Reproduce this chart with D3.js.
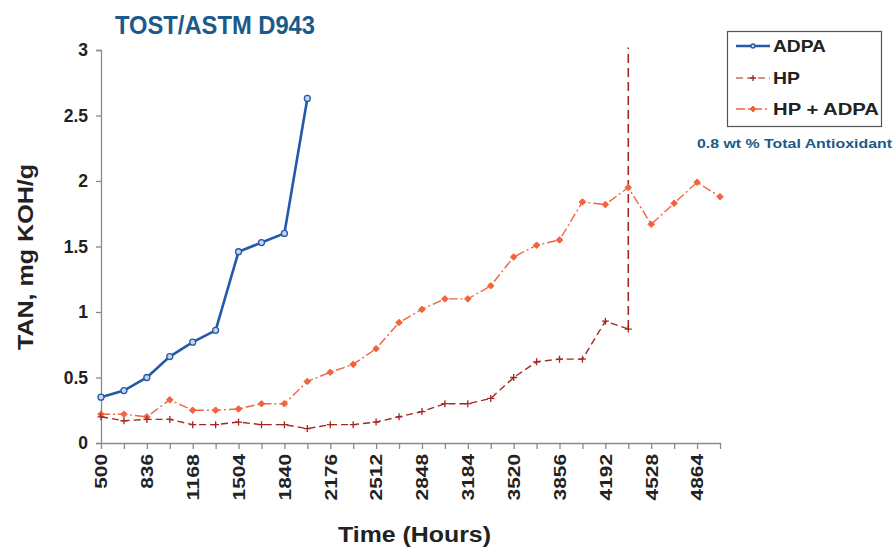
<!DOCTYPE html>
<html>
<head>
<meta charset="utf-8">
<script src="https://cdn.jsdelivr.net/npm/d3@7/dist/d3.min.js"></script>
<style>
  html, body { margin: 0; padding: 0; background: #fff; }
  svg { display: block; }
  text { font-family: "Liberation Sans", Arial, sans-serif; font-weight: bold; }
</style>
</head>
<body>
<svg id="chart" width="895" height="548"></svg>
<script>
// Sampling times (hours); every other one is labelled on the axis
const hours = [500, 668, 836, 1004, 1168, 1336, 1504, 1672, 1840, 2008, 2176, 2344, 2512, 2680,
               2848, 3016, 3184, 3352, 3520, 3688, 3856, 4024, 4192, 4360, 4528, 4696, 4864, 5032];
const labelledHours = [500, 836, 1168, 1504, 1840, 2176, 2512, 2848, 3184, 3520, 3856, 4192, 4528, 4864];

// TAN values, mg KOH/g
const adpa = [0.35, 0.40, 0.50, 0.66, 0.77, 0.86, 1.46, 1.53, 1.60, 2.63];
const hp = [0.20, 0.17, 0.18, 0.18, 0.14, 0.14, 0.16, 0.14, 0.14, 0.11, 0.14, 0.14, 0.16, 0.20,
            0.24, 0.30, 0.30, 0.34, 0.50, 0.62, 0.64, 0.64, 0.93, 0.87];
const hpAdpa = [0.22, 0.22, 0.20, 0.33, 0.25, 0.25, 0.26, 0.30, 0.30, 0.47, 0.54, 0.60, 0.72, 0.92,
                1.02, 1.10, 1.10, 1.20, 1.42, 1.51, 1.55, 1.84, 1.82, 1.95, 1.67, 1.83, 1.99, 1.88];
// HP run terminated: TAN rises off scale after the last reading
const hpEndValue = 3.02;

const yTicks = [0, 0.5, 1, 1.5, 2, 2.5, 3];

const seriesNames = ["ADPA", "HP", "HP + ADPA"];
const colors = { adpa: "#2459a9", hp: "#a3281f", hpAdpa: "#f2643c" };

const svg = d3.select("#chart");

const x = d3.scalePoint().domain(hours).range([101, 720]).padding(0);
const y = d3.scaleLinear().domain([0, 3]).range([443, 50]);

const axisColor = "#8a8a8a";

// Y axis
const yAxis = svg.append("g")
  .attr("transform", "translate(101,0)")
  .call(d3.axisLeft(y).tickValues(yTicks).tickSize(5).tickPadding(8)
        .tickFormat(d => d3.format("")(d)));
yAxis.select(".domain").attr("stroke", axisColor).attr("stroke-width", 1.3);
yAxis.selectAll(".tick line").attr("stroke", axisColor).attr("stroke-width", 1.3);
yAxis.selectAll(".tick text").attr("font-size", 17.5).attr("fill", "#222");

// X axis
const xAxis = svg.append("g")
  .attr("transform", "translate(0,443)")
  .call(d3.axisBottom(x).tickSize(6).tickSizeOuter(0)
        .tickFormat(d => labelledHours.includes(d) ? d : ""));
xAxis.select(".domain").attr("stroke", axisColor).attr("stroke-width", 1.3);
xAxis.selectAll(".tick line").attr("stroke", axisColor).attr("stroke-width", 1.3);
xAxis.selectAll(".tick text")
  .attr("font-size", 16.5)
  .attr("fill", "#222")
  .attr("text-anchor", "end")
  .attr("dy", "0.35em")
  .attr("transform", "translate(0,11) rotate(-90)")
  .attr("x", 0).attr("y", 0)
  .each(function (d) {
    const s = String(this.textContent);
    if (s.length) d3.select(this).attr("textLength", s.length * 11.6).attr("lengthAdjust", "spacingAndGlyphs");
  });

// Line generator over category positions
const lineFor = arr => d3.line()
  .defined(d => d != null)
  .x((d, i) => x(hours[i]))
  .y(d => y(d))(arr);

// HP + ADPA: dash-dot orange
svg.append("path")
  .attr("d", lineFor(hpAdpa))
  .attr("fill", "none")
  .attr("stroke", colors.hpAdpa)
  .attr("stroke-width", 1.4)
  .attr("stroke-dasharray", "9,3,2,3");

// HP: dashed dark red, ending in a vertical rise
svg.append("path")
  .attr("d", lineFor(hp))
  .attr("fill", "none")
  .attr("stroke", colors.hp)
  .attr("stroke-width", 1.4)
  .attr("stroke-dasharray", "7,4");
const lastHp = hp.length - 1;
svg.append("line")
  .attr("x1", x(hours[lastHp])).attr("x2", x(hours[lastHp]))
  .attr("y1", y(hp[lastHp])).attr("y2", y(hpEndValue))
  .attr("stroke", colors.hp)
  .attr("stroke-width", 1.6)
  .attr("stroke-dasharray", "9,5");

// ADPA: solid blue
svg.append("path")
  .attr("d", lineFor(adpa))
  .attr("fill", "none")
  .attr("stroke", colors.adpa)
  .attr("stroke-width", 2.6);

// Markers
function diamond(sel, cx, cy, r, color) {
  sel.append("path")
    .attr("d", `M${cx},${cy - r}L${cx + r},${cy}L${cx},${cy + r}L${cx - r},${cy}Z`)
    .attr("fill", color).attr("stroke", color).attr("stroke-width", 1);
}
function plus(sel, cx, cy, r, color) {
  sel.append("path")
    .attr("d", `M${cx - r},${cy}H${cx + r}M${cx},${cy - r}V${cy + r}`)
    .attr("stroke", color).attr("stroke-width", 1.3).attr("fill", "none");
}
function ring(sel, cx, cy, r, color) {
  sel.append("circle").attr("cx", cx).attr("cy", cy).attr("r", r)
    .attr("fill", "#c8d4ec").attr("stroke", color).attr("stroke-width", 1.3);
}

const marks = svg.append("g");
hpAdpa.forEach((v, i) => { if (v != null) diamond(marks, x(hours[i]), y(v), 3.3, colors.hpAdpa); });
hp.forEach((v, i) => { if (v != null) plus(marks, x(hours[i]), y(v), 3.5, colors.hp); });
adpa.forEach((v, i) => { if (v != null) ring(marks, x(hours[i]), y(v), 3, colors.adpa); });

// Title
svg.append("text")
  .attr("x", 115).attr("y", 34)
  .attr("font-size", 25)
  .attr("fill", "#1a5a8b")
  .attr("textLength", 200).attr("lengthAdjust", "spacingAndGlyphs")
  .text("TOST/ASTM D943");

// Axis titles
svg.append("text")
  .attr("transform", "translate(33,257) rotate(-90)")
  .attr("text-anchor", "middle")
  .attr("font-size", 22)
  .attr("fill", "#222")
  .attr("textLength", 186).attr("lengthAdjust", "spacingAndGlyphs")
  .text("TAN, mg KOH/g");

svg.append("text")
  .attr("x", 338).attr("y", 542)
  .attr("font-size", 22)
  .attr("fill", "#222")
  .attr("textLength", 153).attr("lengthAdjust", "spacingAndGlyphs")
  .text("Time  (Hours)");

// Legend
const legend = svg.append("g");
legend.append("rect")
  .attr("x", 727.5).attr("y", 31.5).attr("width", 154).attr("height", 95)
  .attr("fill", "#fff").attr("stroke", "#555").attr("stroke-width", 1.2);

const legendRows = [
  { name: seriesNames[0], y: 46, color: colors.adpa, width: 2.6, dash: null, mark: ring },
  { name: seriesNames[1], y: 78, color: colors.hp, width: 1.2, dash: "7,4", mark: plus },
  { name: seriesNames[2], y: 109, color: colors.hpAdpa, width: 1.4, dash: "9,3,2,3", mark: diamond }
];
const legendWidths = [53, 27, 106];
legendRows.forEach((r, k) => {
  legend.append("line")
    .attr("x1", 736).attr("x2", 770).attr("y1", r.y).attr("y2", r.y)
    .attr("stroke", r.color).attr("stroke-width", r.width)
    .attr("stroke-dasharray", r.dash);
  r.mark(legend, 753, r.y, r.mark === ring ? 2 : 3, r.color);
  legend.append("text")
    .attr("x", 773).attr("y", r.y + 6)
    .attr("font-size", 17)
    .attr("fill", "#222")
    .attr("textLength", legendWidths[k]).attr("lengthAdjust", "spacingAndGlyphs")
    .text(r.name);
});

svg.append("text")
  .attr("x", 697).attr("y", 148)
  .attr("font-size", 13.5)
  .attr("fill", "#1a5a8b")
  .attr("textLength", 195).attr("lengthAdjust", "spacingAndGlyphs")
  .text("0.8 wt % Total Antioxidant");
</script>
</body>
</html>
